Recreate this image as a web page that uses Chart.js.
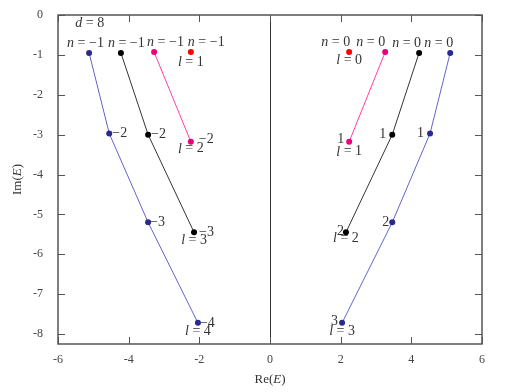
<!DOCTYPE html>
<html>
<head>
<meta charset="utf-8">
<script src="https://cdn.jsdelivr.net/npm/chart.js@4/dist/chart.umd.min.js"></script>
<style>
html, body { margin: 0; padding: 0; background: #fff; }
#wrap { width: 506px; height: 392px; }
</style>
</head>
<body>
<div id="wrap"><canvas id="chart" width="506" height="392"></canvas></div>
<script>
// n = -1 branch (left half)
var blueReL = [-5.12, -4.55, -3.45, -2.04];
var blueIm = [-0.95, -2.97, -5.2, -7.72];
var blackReL = [-4.22, -3.45, -2.15];
var blackIm = [-0.95, -3.0, -5.45];
var pinkReL = [-3.28, -2.24];
var pinkIm = [-0.93, -3.18];
var redReL = [-2.24];
var redIm = [-0.93];

// n = 0 branch (right half)
var blueReR = [5.1, 4.53, 3.46, 2.04];
var blackReR = [4.22, 3.46, 2.15];
var pinkReR = [3.26, 2.24];
var redReR = [2.24];

var xTicks = [-6, -4, -2, 0, 2, 4, 6];
var yTicks = [0, -1, -2, -3, -4, -5, -6, -7, -8];

var SERIF = '"Liberation Serif", "DejaVu Serif", serif';

function pts(xs, ys) {
    return xs.map(function(x, i) { return { x: x, y: ys[i] }; });
}

function series(xs, ys, line, dot) {
    return {
        data: pts(xs, ys),
        showLine: true,
        borderColor: line,
        borderWidth: 1,
        backgroundColor: dot,
        pointBackgroundColor: dot,
        pointBorderWidth: 0,
        pointRadius: 3
    };
}

var datasets = [
    series(blueReL, blueIm, '#6464c8', '#2a2a8c'),   // 0
    series(blackReL, blackIm, '#333333', '#000000'), // 1
    series(pinkReL, pinkIm, '#ff3fa4', '#e8007e'),   // 2
    series(redReL, redIm, '#ff0000', '#ff0000'),     // 3
    series(blueReR, blueIm, '#6464c8', '#2a2a8c'),   // 4
    series(blackReR, blackIm, '#333333', '#000000'), // 5
    series(pinkReR, pinkIm, '#ff3fa4', '#e8007e'),   // 6
    series(redReR, redIm, '#ff0000', '#ff0000')      // 7
];

// text runs: [text, italic]
var nL = [['n', true], [' = \u22121', false]];
var nR = [['n', true], [' = 0', false]];
function ell(k) { return [['l', true], [' = ' + k, false]]; }
function num(s) { return [[s, false]]; }

// labels hung on points: dataset, point index, runs, align, dx, dy
var tags = [
    [0, 0, nL, 'left', -22, -10],
    [1, 0, nL, 'left', -13, -10],
    [2, 0, nL, 'left', -7, -10],
    [3, 0, nL, 'left', -3, -10],
    [3, 0, ell(1), 'center', 0, 10],
    [0, 1, num('\u22122'), 'left', 3, 0],
    [0, 2, num('\u22123'), 'left', 2, 0],
    [0, 3, num('\u22124'), 'left', 2, 0],
    [0, 3, ell(4), 'center', 0, 8],
    [1, 1, num('\u22122'), 'left', 3, 0],
    [1, 2, num('\u22123'), 'left', 5, 0],
    [1, 2, ell(3), 'center', 0, 8],
    [2, 1, num('\u22122'), 'left', 8, -2],
    [2, 1, ell(2), 'center', 0, 7],
    [7, 0, nR, 'right', 1, -10],
    [7, 0, ell(0), 'center', 0, 8],
    [6, 0, nR, 'right', 0, -10],
    [6, 1, num('1'), 'right', -5, -2],
    [6, 1, ell(1), 'center', 0, 10],
    [5, 0, nR, 'right', 2, -10],
    [5, 1, num('1'), 'right', -6, 0],
    [5, 2, num('2'), 'right', -2, -1],
    [5, 2, ell(2), 'center', 0, 6],
    [4, 0, nR, 'right', 3, -10],
    [4, 1, num('1'), 'right', -6, 0],
    [4, 2, num('2'), 'right', -3, 0],
    [4, 3, num('3'), 'right', -4, -2],
    [4, 3, ell(3), 'center', 0, 8]
];

function runWidth(ctx, runs, size) {
    var w = 0;
    runs.forEach(function(r) {
        ctx.font = (r[1] ? 'italic ' : '') + size + 'px ' + SERIF;
        w += ctx.measureText(r[0]).width;
    });
    return w;
}

function drawRuns(ctx, runs, x, y, align, size) {
    var w = runWidth(ctx, runs, size);
    var sx = align === 'left' ? x : align === 'right' ? x - w : x - w / 2;
    ctx.textAlign = 'left';
    ctx.textBaseline = 'middle';
    runs.forEach(function(r) {
        ctx.font = (r[1] ? 'italic ' : '') + size + 'px ' + SERIF;
        ctx.fillText(r[0], sx, y);
        sx += ctx.measureText(r[0]).width;
    });
}

var framePlugin = {
    id: 'frame',
    afterDraw: function(chart) {
        var ctx = chart.ctx;
        var a = chart.chartArea;
        var xs = chart.scales.x, ys = chart.scales.y;
        ctx.save();
        ctx.strokeStyle = '#555';
        ctx.lineWidth = 1.5;
        ctx.strokeRect(a.left, a.top, a.right - a.left, a.bottom - a.top);
        ctx.lineWidth = 1;
        ctx.beginPath();
        xTicks.forEach(function(v) {
            var px = Math.round(xs.getPixelForValue(v)) + 0.5;
            ctx.moveTo(px, a.bottom); ctx.lineTo(px, a.bottom - 7);
            ctx.moveTo(px, a.top); ctx.lineTo(px, a.top + 7);
        });
        yTicks.forEach(function(v) {
            var py = Math.round(ys.getPixelForValue(v)) + 0.5;
            ctx.moveTo(a.left, py); ctx.lineTo(a.left + 7, py);
            ctx.moveTo(a.right, py); ctx.lineTo(a.right - 7, py);
        });
        ctx.stroke();

        ctx.fillStyle = '#333';
        tags.forEach(function(t) {
            var el = chart.getDatasetMeta(t[0]).data[t[1]];
            drawRuns(ctx, t[2], el.x + t[4], el.y + t[5], t[3], 14);
        });
        drawRuns(ctx, [['d', true], [' = 8', false]], xs.getPixelForValue(-5.1), ys.getPixelForValue(-0.2), 'center', 14);

        // axis titles
        drawRuns(ctx, [['Re(', false], ['E', true], [')', false]], (a.left + a.right) / 2, 380, 'center', 13);
        ctx.translate(18, (a.top + a.bottom) / 2);
        ctx.rotate(-Math.PI / 2);
        drawRuns(ctx, [['Im(', false], ['E', true], [')', false]], 0, 0, 'center', 13);
        ctx.restore();
    }
};

new Chart(document.getElementById('chart'), {
    type: 'scatter',
    data: { datasets: datasets },
    options: {
        responsive: false,
        animation: false,
        layout: { padding: { top: 15, right: 24, left: 0, bottom: 0 } },
        plugins: { legend: { display: false }, tooltip: { enabled: false } },
        scales: {
            x: {
                min: -6, max: 6,
                afterFit: function(s) {
                    s.height = 48;
                    s.paddingLeft = 0; s.paddingRight = 0;
                },
                afterBuildTicks: function(s) {
                    s.ticks = xTicks.map(function(v) { return { value: v }; });
                },
                border: { display: false },
                grid: {
                    drawTicks: false,
                    color: function(c) { return c.tick && c.tick.value === 0 ? '#333' : 'rgba(0,0,0,0)'; },
                    lineWidth: 1
                },
                ticks: {
                    padding: 9,
                    color: '#444',
                    font: { family: SERIF, size: 12 },
                    callback: function(v) { return String(v); }
                }
            },
            y: {
                min: -8.25, max: 0,
                afterFit: function(s) {
                    s.width = 58;
                    s.paddingTop = 0; s.paddingBottom = 0;
                },
                afterBuildTicks: function(s) {
                    s.ticks = yTicks.map(function(v) { return { value: v }; });
                },
                border: { display: false },
                grid: { display: false, drawTicks: false },
                ticks: {
                    padding: 15,
                    color: '#444',
                    font: { family: SERIF, size: 12 },
                    callback: function(v) { return String(v); }
                }
            }
        }
    },
    plugins: [framePlugin]
});
</script>
</body>
</html>
